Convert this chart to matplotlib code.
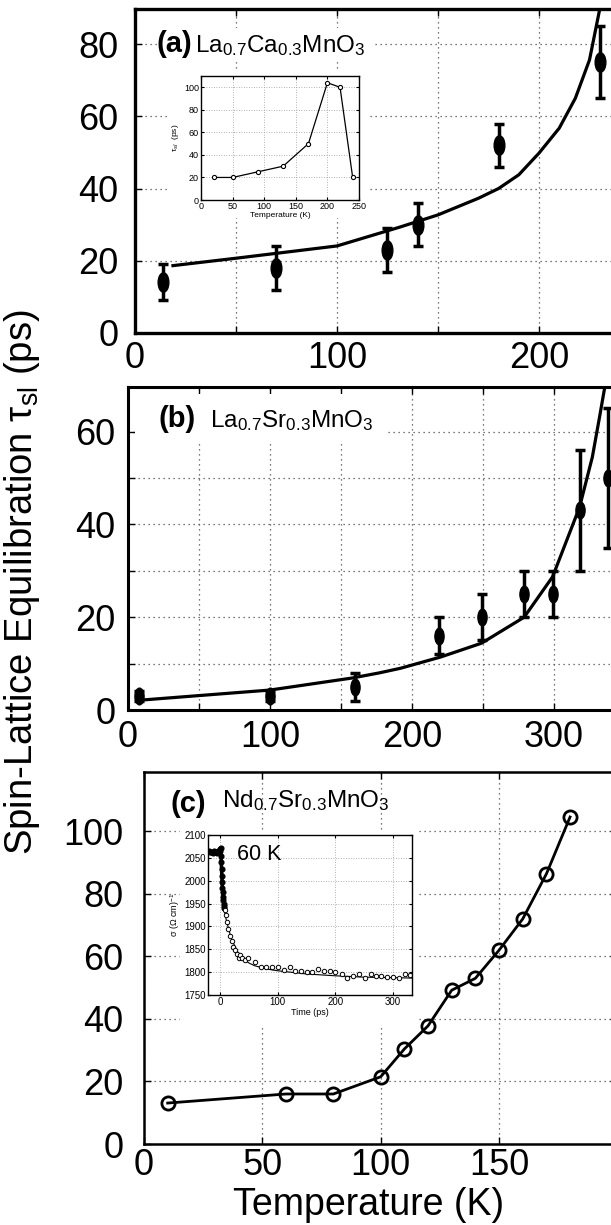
import numpy as np
import matplotlib
matplotlib.use('Agg')
import matplotlib.pyplot as plt
from matplotlib.path import Path
from matplotlib.transforms import Affine2D
from matplotlib.patches import Rectangle
from matplotlib.ticker import MultipleLocator, FixedLocator

plt.rcParams['font.family'] = ['Liberation Sans', 'DejaVu Sans']
plt.rcParams['mathtext.fontset'] = 'custom'
plt.rcParams['mathtext.rm'] = 'Liberation Sans'
plt.rcParams['mathtext.it'] = 'Liberation Sans:italic'
plt.rcParams['mathtext.bf'] = 'Liberation Sans:bold'

# ---------------- data ----------------
# (a) La0.7Ca0.3MnO3
Ta = [14, 70, 125, 140, 180, 230]
ya = [14, 18, 23, 30, 52, 75]
ea = [5, 6, 6, 6, 6, 10]
Ta_fit = [18, 50, 75, 100, 131, 150, 170, 180, 190, 200, 210, 218, 225, 230, 233]
ya_fit = [18.6, 20.7, 22.4, 24.1, 29.3, 32.7, 37.3, 40.0, 43.8, 49.8, 56.7, 65.0, 75.6, 89.5, 98.0]
# (a) inset
Ta_in = [20, 50, 90, 130, 170, 200, 220, 240]
ya_in = [20, 20, 25, 30, 50, 104, 100, 20]

# (b) La0.7Sr0.3MnO3
Tb = [8, 100, 160, 219, 249, 279, 299, 318, 338]
yb = [3, 3, 5, 16, 20, 25, 25, 43, 50]
eb = [1, 1, 3, 4, 5, 5, 5, 13, 15]
Tb_fit = [12, 100, 158, 177, 192, 220, 249, 279, 299, 318, 327, 332, 336, 338]
yb_fit = [2.2, 4.3, 6.9, 8.0, 9.0, 11.4, 14.4, 20.0, 28.7, 43.7, 54.5, 63.0, 70.0, 75.0]

# (c) Nd0.7Sr0.3MnO3
Tc = [10, 60, 80, 100, 110, 120, 130, 140, 150, 160, 170, 180]
yc = [13.1, 16.0, 16.0, 21.5, 30.4, 37.8, 49.2, 53.0, 62.0, 72.0, 86.4, 104.6]
# (c) inset : conductivity transient at 60 K (dense early part, then sparse tail)
t_early = [-19, -17, -15, -13, -11, -9, -7, -5, -3, -2, -1, 0,
           1, 1.5, 2, 2.5, 3, 3.5, 4, 4.5, 5, 5.5, 6, 6.5, 7]
s_early = [2064, 2062, 2063, 2061, 2064, 2062, 2063, 2061, 2064, 2062, 2066, 2070,
           2072, 2055, 2040, 2025, 2010, 1998, 1985, 1975, 1965, 1958, 1950, 1945, 1940]
t_tail = [8.7, 10.4, 12, 14.4, 17.3, 20, 23, 26, 29, 32, 34.6, 38, 43, 49,
          60.6, 70.4, 79.6, 89.4, 100, 111, 121, 130, 140, 150, 160, 170,
          180, 190, 200, 211, 220, 231, 241, 251, 261, 270, 280, 290, 300,
          310, 320, 330]
s_tail = [1936, 1925, 1910, 1895, 1880, 1869, 1855, 1848, 1839, 1832, 1837, 1830, 1827, 1831,
          1822, 1812, 1811, 1812, 1811, 1805, 1812, 1802, 1803, 1801, 1800, 1807,
          1802, 1802, 1800, 1795, 1787, 1792, 1797, 1787, 1797, 1792, 1792, 1789, 1789,
          1787, 1797, 1794]
t_fit_in = [5, 10, 15, 20, 30, 40, 50, 60, 80, 100, 150, 200, 250, 300, 333]
s_fit_in = [1950, 1918, 1893, 1872, 1845, 1829, 1820, 1814, 1807, 1803, 1796, 1792, 1789, 1788, 1787]

# ---------------- figure ----------------
W, H = 611, 1225
fig = plt.figure(figsize=(W / 100, H / 100), dpi=100)


def ax_at(x0, y0, x1, y1, **kw):
    return fig.add_axes([x0 / W, 1 - y1 / H, (x1 - x0) / W, (y1 - y0) / H], **kw)


def white(x0, y0, x1, y1):
    fig.patches.append(Rectangle((x0 / W, 1 - y1 / H), (x1 - x0) / W, (y1 - y0) / H,
                                 transform=fig.transFigure, facecolor='white',
                                 edgecolor='none', zorder=1))


def fx(x):
    return x / W


def fy(y):
    return 1 - y / H


ell = Path.unit_circle().transformed(Affine2D().scale(0.55, 1.0))
GRID = dict(linestyle=(0, (1, 3)), color='0.3', linewidth=0.9)
TICKFS = 26


def style_main(ax, lw):
    for s in ax.spines.values():
        s.set_linewidth(lw)
    ax.tick_params(which='both', direction='in', top=True, right=True,
                   length=5, width=1, labelsize=TICKFS)
    ax.set_axisbelow(True)
    ax.grid(True, which='both', **GRID)


# ---- panel (a)
axa = ax_at(135, 9, 135 + 240 * 2.02, 333)
axa.set_xlim(0, 240)
axa.set_ylim(0, 89.7)
axa.xaxis.set_major_locator(FixedLocator([0, 100, 200]))
axa.xaxis.set_minor_locator(FixedLocator([50, 150]))
axa.yaxis.set_major_locator(MultipleLocator(20))
style_main(axa, 2.4)
axa.tick_params(axis='x', pad=6)
axa.tick_params(axis='y', pad=12)
axa.plot(Ta_fit, ya_fit, color='k', lw=2.3, solid_capstyle='butt', zorder=3)
axa.errorbar(Ta, ya, yerr=ea, fmt='none', ecolor='k', elinewidth=2.5,
             capsize=3.5, capthick=2.5, zorder=4)
axa.plot(Ta, ya, ls='none', marker=ell, ms=14, color='k', zorder=5)

white(157, 28, 375, 60)
white(170, 72, 370, 218)
fig.text(fx(157), fy(52), '(a)', fontsize=21, fontweight='bold', va='baseline', zorder=3)
fig.text(fx(195), fy(52), 'La$_{0.7}$Ca$_{0.3}$MnO$_3$', fontsize=17.5, va='baseline', zorder=3)

ina = ax_at(201, 76, 359, 200)
ina.set_zorder(3)
ina.plot(Ta_in, ya_in, color='k', lw=0.9, marker='o', ms=3, mfc='white', mec='k', mew=0.8)
ina.set_xlim(0, 250)
ina.set_ylim(0, 110)
ina.xaxis.set_major_locator(MultipleLocator(50))
ina.yaxis.set_major_locator(MultipleLocator(20))
ina.tick_params(direction='in', length=2, labelsize=6.5, pad=1.5, top=True, right=True)
ina.grid(True, linestyle=(0, (1, 2)), color='0.6', linewidth=0.6)
ina.set_axisbelow(True)
for s in ina.spines.values():
    s.set_linewidth(1.0)
ina.set_xlabel('Temperature (K)', fontsize=6, labelpad=1)
ina.set_ylabel(r'τ$_{sl}$  (ps)', fontsize=6, labelpad=2)

# ---- panel (b)
axb = ax_at(128, 387, 128 + 350 * 1.42, 710)
axb.set_xlim(0, 350)
axb.set_ylim(0, 69.6)
axb.xaxis.set_major_locator(MultipleLocator(100))
axb.xaxis.set_minor_locator(MultipleLocator(50))
axb.yaxis.set_major_locator(MultipleLocator(20))
axb.yaxis.set_minor_locator(MultipleLocator(10))
style_main(axb, 2.2)
axb.tick_params(axis='x', pad=7.5)
axb.tick_params(axis='y', pad=9)
axb.plot(Tb_fit, yb_fit, color='k', lw=2.3, zorder=3)
axb.errorbar(Tb, yb, yerr=eb, fmt='none', ecolor='k', elinewidth=2.5,
             capsize=3.5, capthick=2.5, zorder=4)
axb.plot(Tb, yb, ls='none', marker=ell, ms=12, color='k', zorder=5)

white(135, 394, 385, 442)
fig.text(fx(158), fy(427), '(b)', fontsize=21, fontweight='bold', va='baseline', zorder=3)
fig.text(fx(210), fy(427), 'La$_{0.7}$Sr$_{0.3}$MnO$_3$', fontsize=17.5, va='baseline', zorder=3)

# ---- panel (c)
axc = ax_at(144, 772, 144 + 200 * 2.367, 1144)
axc.set_xlim(0, 200)
axc.set_ylim(0, 119)
axc.xaxis.set_major_locator(FixedLocator([0, 50, 100, 150]))
axc.yaxis.set_major_locator(FixedLocator([0, 20, 40, 60, 80, 100]))
style_main(axc, 1.8)
axc.tick_params(axis='x', pad=3)
axc.tick_params(axis='y', pad=15)
axc.plot(Tc, yc, color='k', lw=2.0, marker='o', ms=9.5, mfc='none', mec='k', mew=2.0, zorder=3)

fig.text(fx(170), fy(812), '(c)', fontsize=21, fontweight='bold', va='baseline', zorder=3)
fig.text(fx(222), fy(807), 'Nd$_{0.7}$Sr$_{0.3}$MnO$_3$', fontsize=17.5, va='baseline', zorder=3)

white(180, 830, 417, 1027)
inc = ax_at(208, 835, 412, 995)
inc.set_zorder(3)
inc.plot(t_fit_in, s_fit_in, color='k', lw=0.8)
inc.plot(t_early, s_early, color='k', lw=2.5, marker='o', ms=3.4, mfc='k', mec='k', mew=1.0)
inc.plot(t_tail, s_tail, ls='none', marker='o', ms=3.2, mfc='white', mec='k', mew=0.7)
inc.set_xlim(-21, 333)
inc.set_ylim(1750, 2100)
inc.xaxis.set_major_locator(MultipleLocator(100))
inc.yaxis.set_major_locator(MultipleLocator(50))
inc.tick_params(direction='in', length=2, labelsize=7, pad=1.5, top=True, right=True)
inc.grid(True, linestyle=(0, (1, 2)), color='0.6', linewidth=0.6)
inc.set_axisbelow(True)
for s in inc.spines.values():
    s.set_linewidth(1.0)
inc.set_xlabel('Time (ps)', fontsize=6.5, labelpad=1)
inc.set_ylabel(r'σ (Ω cm)$^{-1}$', fontsize=6.5, labelpad=2)
inc.text(0.14, 0.875, '60 K', transform=inc.transAxes, fontsize=15.5, va='center')

# ---- shared labels
fig.text(fx(22), fy(582), r'Spin-Lattice Equilibration τ$_{\mathrm{sl}}$ (ps)',
         rotation=90, ha='center', va='center', fontsize=27.5)
fig.text(fx(369), fy(1205), 'Temperature (K)', ha='center', va='center', fontsize=27)

fig.savefig('out.png', dpi=100)
